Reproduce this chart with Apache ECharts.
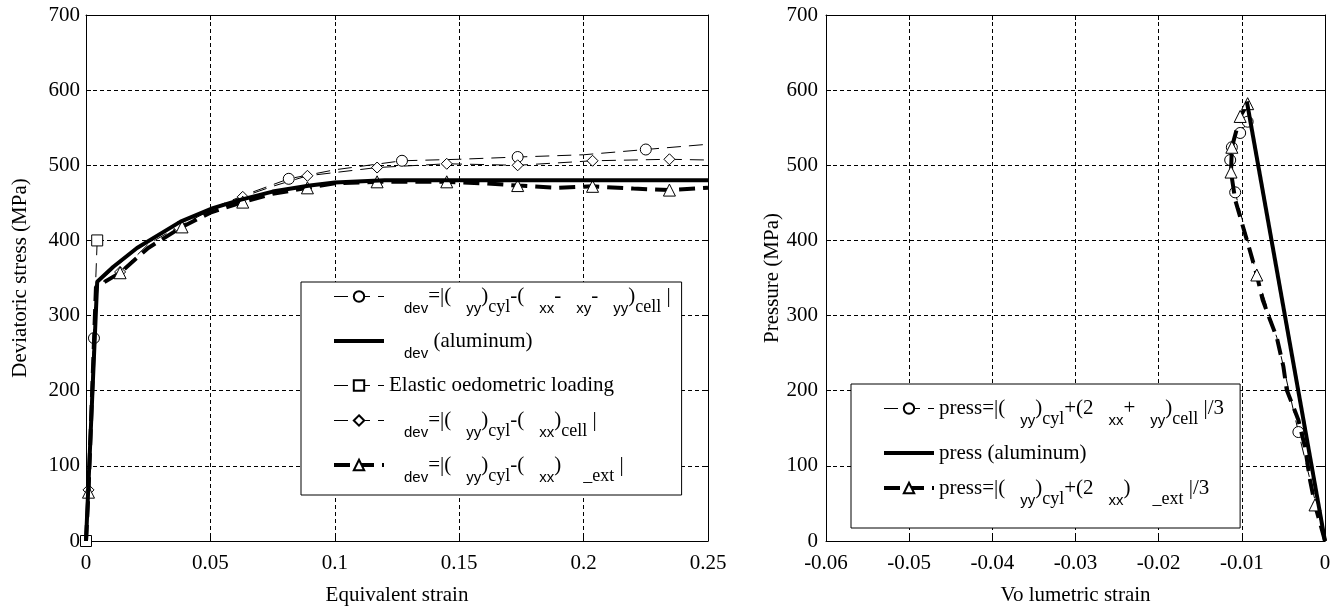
<!DOCTYPE html>
<html><head><meta charset="utf-8">
<script src="https://cdn.jsdelivr.net/npm/echarts@6/dist/echarts.min.js"></script>
<style>html,body{margin:0;padding:0;background:#fff}#c{width:1342px;height:608px}</style>
</head><body><div id="c"></div>
<script>
// ---------- Left panel: deviatoric stress vs equivalent strain ----------
const alumX = [0, 0.0045, 0.011, 0.0205, 0.038, 0.051, 0.062, 0.075, 0.09, 0.1, 0.12, 0.25];
const alumY = [0, 345, 365, 390, 425, 443, 454, 465, 473, 477, 480, 480];

const devCellX = [0, 0.0032, 0.005, 0.012, 0.02, 0.038, 0.05, 0.065, 0.0815, 0.1, 0.127, 0.15, 0.1735, 0.2, 0.225, 0.25];
const devCellY = [0, 270, 345, 365, 388, 423, 442, 462, 482, 494, 506, 508, 511, 514, 521, 528];
const devCellMarks = [1, 8, 10, 12, 14];

const oedoX = [0, 0.0045];
const oedoY = [0, 400];
const oedoMarks = [0, 1];

const devXxX = [0, 0.001, 0.004, 0.0137, 0.025, 0.037, 0.05, 0.063, 0.075, 0.089, 0.117, 0.145, 0.1735, 0.2036, 0.2345, 0.25];
const devXxY = [0, 68, 340, 358, 395, 418, 440, 458, 472, 486, 497, 502, 500, 506, 508, 507];
const devXxMarks = [1, 3, 5, 7, 9, 10, 11, 12, 13, 14];

const devExtX = [0, 0.001, 0.004, 0.0137, 0.025, 0.0386, 0.05, 0.063, 0.075, 0.089, 0.1, 0.117, 0.145, 0.16, 0.1735, 0.19, 0.2036, 0.22, 0.2345, 0.25];
const devExtY = [0, 65, 338, 357, 390, 418, 437, 451, 462, 470, 476, 478, 478, 476, 473, 470, 472, 469, 467, 470];
const devExtMarks = [1, 3, 5, 7, 9, 11, 12, 14, 16, 18];

// ---------- Right panel: pressure vs volumetric strain ----------
const pAlumX = [0, -0.0094];
const pAlumY = [0, 585];

const pCellX = [0, -0.0032, -0.0058, -0.0082, -0.0108, -0.0114, -0.0112, -0.0102, -0.0093];
const pCellY = [0, 145, 271, 354, 464, 507, 524, 543, 558];
const pCellMarks = [1, 4, 5, 6, 7, 8];

const pExtX = [0, -0.0012, -0.0018, -0.0024, -0.0032, -0.0046, -0.005, -0.0058, -0.0066, -0.0075, -0.0082, -0.0093, -0.0108, -0.0113, -0.0112, -0.0102, -0.0093];
const pExtY = [0, 48, 81, 125, 161, 201, 232, 271, 294, 321, 354, 397, 454, 491, 524, 565, 582];
const pExtMarks = [1, 10, 13, 14, 15, 16];

// ---------- Axis ticks ----------
const eqStrainTicks = [0, 0.05, 0.1, 0.15, 0.2, 0.25];
const volStrainTicks = [-0.06, -0.05, -0.04, -0.03, -0.02, -0.01, 0];
const stressTicks = [0, 100, 200, 300, 400, 500, 600, 700];

// ---------- Legend labels (rich text; Greek symbols absent as in the figure) ----------
const L1 = 'dev=|(yy)cyl-(xx-xy-yy)cell|';
const L2 = 'dev (aluminum)';
const L3 = 'Elastic oedometric loading';
const L4 = 'dev=|(yy)cyl-(xx)cell|';
const L5 = 'dev=|(yy)cyl-(xx)_ext|';
const R1 = 'press=|(yy)cyl+(2xx+yy)cell|/3';
const R2 = 'press (aluminum)';
const R3 = 'press=|(yy)cyl+(2xx)_ext|/3';

const richLabel = {};
richLabel[L1] = '{g| }{s|dev}{n|=|(}{g| }{s|yy}{n|)}{c|cyl}{n|-(}{g| }{s|xx}{n|-}{g| }{s|xy}{n|-}{g| }{s|yy}{n|)}{c|cell}{n| |}';
richLabel[L2] = '{g| }{s|dev}{n| (aluminum)}';
richLabel[L3] = '{n|Elastic oedometric loading}';
richLabel[L4] = '{g| }{s|dev}{n|=|(}{g| }{s|yy}{n|)}{c|cyl}{n|-(}{g| }{s|xx}{n|)}{c|cell}{n| |}';
richLabel[L5] = '{g| }{s|dev}{n|=|(}{g| }{s|yy}{n|)}{c|cyl}{n|-(}{g| }{s|xx}{n|)}{w| }{c|_ext}{n| |}';
richLabel[R1] = '{n|press=|(}{g| }{s|yy}{n|)}{c|cyl}{n|+(2}{g| }{s|xx}{n|+}{g| }{s|yy}{n|)}{c|cell}{n| |/3}';
richLabel[R2] = '{n|press (aluminum)}';
richLabel[R3] = '{n|press=|(}{g| }{s|yy}{n|)}{c|cyl}{n|+(2}{g| }{s|xx}{n|)}{w| }{c|_ext}{n| |/3}';

const SERIF = '"Liberation Serif", "DejaVu Serif", serif';
const SANS = '"Liberation Sans", "DejaVu Sans", sans-serif';
const rich = {
  n: {fontFamily: SERIF, fontSize: 21, lineHeight: 40, verticalAlign: 'middle', color: '#000'},
  s: {fontFamily: SANS, fontSize: 15, lineHeight: 8, verticalAlign: 'bottom', color: '#000'},
  c: {fontFamily: SERIF, fontSize: 18, lineHeight: 8, verticalAlign: 'bottom', color: '#000'},
  g: {width: 15, lineHeight: 40, fontSize: 21},
  w: {width: 22, lineHeight: 40, fontSize: 21}
};

function pts(xs, ys, marks) {
  return xs.map((x, i) => marks && marks.includes(i) ? {value: [x, ys[i]]} : {value: [x, ys[i]], symbol: 'none'});
}
function fmt(v) { return String(+(+v).toFixed(4)); }

function mainX(grid, min, max, interval, name, gap) {
  return {type: 'value', gridIndex: grid, min, max, interval, position: 'bottom',
    name, nameLocation: 'middle', nameGap: gap,
    nameTextStyle: {fontFamily: SERIF, fontSize: 21, color: '#000'},
    axisLine: {show: true, onZero: false, lineStyle: {color: '#000', width: 1}},
    axisTick: {show: true, inside: true, length: 5, lineStyle: {color: '#000'}},
    axisLabel: {fontFamily: SERIF, fontSize: 21, color: '#000', margin: 12, formatter: fmt, showMinLabel: true, showMaxLabel: true, hideOverlap: false},
    splitLine: {show: true, lineStyle: {color: '#000', width: 1, type: [4, 3]}}};
}
function topX(grid, min, max, interval) {
  return {type: 'value', gridIndex: grid, min, max, interval, position: 'top',
    axisLine: {show: true, onZero: false, lineStyle: {color: '#000', width: 1}},
    axisTick: {show: true, inside: true, length: 5, lineStyle: {color: '#000'}},
    axisLabel: {show: false}, splitLine: {show: false}};
}
function mainY(grid, name, gap, margin) {
  return {type: 'value', gridIndex: grid, min: stressTicks[0], max: stressTicks[stressTicks.length - 1], interval: 100, position: 'left',
    name, nameLocation: 'middle', nameGap: gap,
    nameTextStyle: {fontFamily: SERIF, fontSize: 21, color: '#000'},
    axisLine: {show: true, onZero: false, lineStyle: {color: '#000', width: 1}},
    axisTick: {show: true, inside: true, length: 5, lineStyle: {color: '#000'}},
    axisLabel: {fontFamily: SERIF, fontSize: 21, color: '#000', margin, formatter: fmt, showMinLabel: true, showMaxLabel: true},
    splitLine: {show: true, lineStyle: {color: '#000', width: 1, type: [4, 3]}}};
}
function rightY(grid) {
  return {type: 'value', gridIndex: grid, min: stressTicks[0], max: stressTicks[stressTicks.length - 1], interval: 100, position: 'right',
    axisLine: {show: true, onZero: false, lineStyle: {color: '#000', width: 1}},
    axisTick: {show: true, inside: true, length: 5, lineStyle: {color: '#000'}},
    axisLabel: {show: false}, splitLine: {show: false}};
}

const hollow = {color: '#fff', borderColor: '#000', borderWidth: 1};
function thinSeries(name, xi, yi, data, symbol) {
  return {name, type: 'line', xAxisIndex: xi, yAxisIndex: yi, data, symbol, symbolSize: 11,
    showSymbol: true, showAllSymbol: true, clip: false, z: 3,
    itemStyle: hollow, lineStyle: {color: '#000', width: 1, type: [14, 8]}};
}
function thickDashed(name, xi, yi, data) {
  return {name, type: 'line', xAxisIndex: xi, yAxisIndex: yi, data, symbol: 'triangle', symbolSize: 12,
    showSymbol: true, showAllSymbol: true, clip: false, z: 4,
    itemStyle: hollow, lineStyle: {color: '#000', width: 4, type: [16, 8]}};
}
function thickSolid(name, xi, yi, data) {
  return {name, type: 'line', xAxisIndex: xi, yAxisIndex: yi, data, symbol: 'none', clip: false, z: 5,
    itemStyle: {color: '#000'}, lineStyle: {color: '#000', width: 4, type: 'solid'}};
}

const legendCommon = {orient: 'vertical', itemWidth: 50, itemHeight: 13, itemGap: 14,
  backgroundColor: '#fff', borderColor: '#000', borderWidth: 1, borderRadius: 0,
  selectedMode: false, align: 'left',
  formatter: name => richLabel[name],
  textStyle: {fontFamily: SERIF, fontSize: 21, color: '#000', rich}};
const thinLeg = name => ({name, lineStyle: {width: 1}});
const solidLeg = name => ({name, lineStyle: {width: 4}, itemStyle: {opacity: 0, borderWidth: 0}});
const dashLeg = name => ({name, lineStyle: {width: 4}});

const chart = echarts.init(document.getElementById('c'), null, {renderer: 'canvas'});
chart.setOption({
  animation: false,
  backgroundColor: '#fff',
  grid: [
    {left: 86, top: 15, width: 622, height: 526, containLabel: false, outerBoundsMode: 'none'},
    {left: 826, top: 15, width: 499, height: 526, containLabel: false, outerBoundsMode: 'none'}
  ],
  xAxis: [
    mainX(0, eqStrainTicks[0], eqStrainTicks[eqStrainTicks.length - 1], 0.05, 'Equivalent strain', 44),
    topX(0, eqStrainTicks[0], eqStrainTicks[eqStrainTicks.length - 1], 0.05),
    mainX(1, volStrainTicks[0], volStrainTicks[volStrainTicks.length - 1], 0.01, 'Vo lumetric strain', 44),
    topX(1, volStrainTicks[0], volStrainTicks[volStrainTicks.length - 1], 0.01)
  ],
  yAxis: [
    mainY(0, 'Deviatoric stress (MPa)', 55, 6),
    rightY(0),
    mainY(1, 'Pressure (MPa)', 35, 8),
    rightY(1)
  ],
  legend: [
    Object.assign({}, legendCommon, {left: 301, top: 282, padding: [4, 11, 10, 31],
      data: [thinLeg(L1), solidLeg(L2), thinLeg(L3), thinLeg(L4), dashLeg(L5)]}),
    Object.assign({}, legendCommon, {left: 851, top: 384, padding: [14, 16, 20, 31],
      data: [thinLeg(R1), solidLeg(R2), dashLeg(R3)]})
  ],
  series: [
    thinSeries(L1, 0, 0, pts(devCellX, devCellY, devCellMarks), 'circle'),
    thickSolid(L2, 0, 0, pts(alumX, alumY, null)),
    thinSeries(L3, 0, 0, pts(oedoX, oedoY, oedoMarks), 'rect'),
    thinSeries(L4, 0, 0, pts(devXxX, devXxY, devXxMarks), 'diamond'),
    thickDashed(L5, 0, 0, pts(devExtX, devExtY, devExtMarks)),
    thinSeries(R1, 2, 2, pts(pCellX, pCellY, pCellMarks), 'circle'),
    thickSolid(R2, 2, 2, pts(pAlumX, pAlumY, null)),
    thickDashed(R3, 2, 2, pts(pExtX, pExtY, pExtMarks))
  ]
});
</script></body></html>
